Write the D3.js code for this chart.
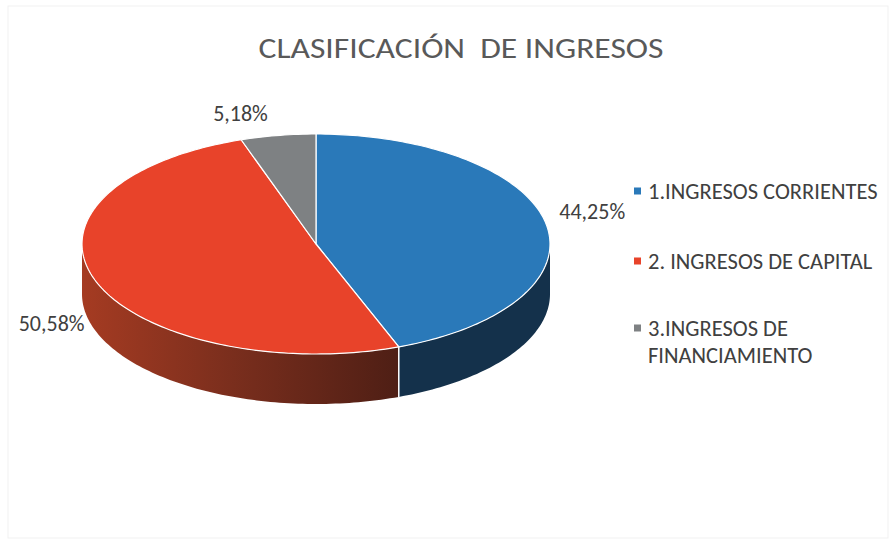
<!DOCTYPE html>
<html>
<head>
<meta charset="utf-8">
<script src="https://cdn.jsdelivr.net/npm/d3@7/dist/d3.min.js"></script>
<style>
  body { margin: 0; background: #fff; }
  text { font-family: Carlito, "Open Sans", "Noto Sans", sans-serif; }
</style>
</head>
<body>
<div id="chart"></div>
<script>
// data
var categories = ['1.INGRESOS CORRIENTES', '2. INGRESOS DE CAPITAL', '3.INGRESOS DE FINANCIAMIENTO'];
var legendLines = [['1.INGRESOS CORRIENTES'], ['2. INGRESOS DE CAPITAL'], ['3.INGRESOS DE', 'FINANCIAMIENTO']];
var values = [44.25, 50.58, 5.18];
var labels = ['44,25%', '50,58%', '5,18%'];

var topColors = ['#2a79b9', '#e8432a', '#7e8183'];
var sideColors = ['#14314b', 'url(#redSide)', '#4a4c4e'];

var W = 894, H = 542;
var cx = 316, cy = 244, rx = 234, ry = 110, depth = 50;

var svg = d3.select('#chart').append('svg').attr('width', W).attr('height', H);

svg.append('rect')
	.attr('x', 8).attr('y', 6)
	.attr('width', W - 14).attr('height', H - 10)
	.attr('fill', '#fff')
	.attr('stroke', '#f1f1f1');

var defs = svg.append('defs');
var grad = defs.append('linearGradient')
	.attr('id', 'redSide')
	.attr('gradientUnits', 'userSpaceOnUse')
	.attr('x1', cx - rx).attr('x2', cx + 100).attr('y1', 0).attr('y2', 0);
grad.append('stop').attr('offset', '0%').attr('stop-color', '#a53b22');
grad.append('stop').attr('offset', '45%').attr('stop-color', '#7a2e1d');
grad.append('stop').attr('offset', '100%').attr('stop-color', '#4a1d14');

svg.append('text')
	.attr('x', 461).attr('y', 58)
	.attr('text-anchor', 'middle')
	.attr('font-size', 29)
	.attr('textLength', 405)
	.attr('lengthAdjust', 'spacingAndGlyphs')
	.attr('fill', '#595959')
	.attr('xml:space', 'preserve')
	.text('CLASIFICACIÓN  DE INGRESOS');

var pie = d3.pie().sort(null).value(function(d) { return d; });
var arcs = pie(values);

function pt(a, dy) {
	return [cx + rx * Math.sin(a), cy - ry * Math.cos(a) + (dy || 0)];
}

function arcPts(a0, a1, dy) {
	var n = Math.max(2, Math.ceil((a1 - a0) / 0.02));
	return d3.range(n + 1).map(function(i) { return pt(a0 + (a1 - a0) * i / n, dy); });
}

var line = d3.line();

// sides (front half only)
var g = svg.append('g');
arcs.forEach(function(d, i) {
	var s = Math.max(d.startAngle, Math.PI / 2);
	var e = Math.min(d.endAngle, Math.PI * 1.5);
	if (s >= e) return;
	var p = arcPts(s, e, 0).concat(arcPts(s, e, depth).reverse());
	g.append('path')
		.attr('d', line(p) + 'Z')
		.attr('fill', sideColors[i]);
});

// white dividers on the side
arcs.forEach(function(d) {
	var a = d.endAngle;
	if (a > Math.PI / 2 && a < Math.PI * 1.5) {
		var p0 = pt(a, 0), p1 = pt(a, depth);
		g.append('line')
			.attr('x1', p0[0]).attr('y1', p0[1])
			.attr('x2', p1[0]).attr('y2', p1[1])
			.attr('stroke', '#fff').attr('stroke-width', 1.5);
	}
});

// top faces
arcs.forEach(function(d, i) {
	var p = [[cx, cy]].concat(arcPts(d.startAngle, d.endAngle, 0));
	g.append('path')
		.attr('d', line(p) + 'Z')
		.attr('fill', topColors[i])
		.attr('stroke', '#fff')
		.attr('stroke-width', 1.2)
		.attr('stroke-linejoin', 'round');
});

// data labels
var labelNudge = [[0, -1], [0, -7], [-30, 7]];
arcs.forEach(function(d, i) {
	var a = (d.startAngle + d.endAngle) / 2;
	var k = 1.2;
	var x = cx + rx * k * Math.sin(a);
	var y = cy - ry * k * Math.cos(a) + (Math.cos(a) < 0 ? depth : 0);
	svg.append('text')
		.attr('x', x + labelNudge[i][0])
		.attr('y', y + labelNudge[i][1])
		.attr('text-anchor', 'middle')
		.attr('font-size', 22)
		.attr('fill', '#404040')
		.text(labels[i]);
});

// legend
var legend = svg.append('g').attr('transform', 'translate(634,0)');
var legendY = [191, 261, 328];
legendLines.forEach(function(lines, i) {
	legend.append('rect')
		.attr('x', 0).attr('y', legendY[i] - 3.5)
		.attr('width', 7).attr('height', 7)
		.attr('fill', topColors[i]);
	lines.forEach(function(t, j) {
		legend.append('text')
			.attr('x', 14).attr('y', legendY[i] + 8 + j * 27)
			.attr('font-size', 22.5)
			.attr('fill', '#404040')
			.text(t);
	});
});
</script>
</body>
</html>
